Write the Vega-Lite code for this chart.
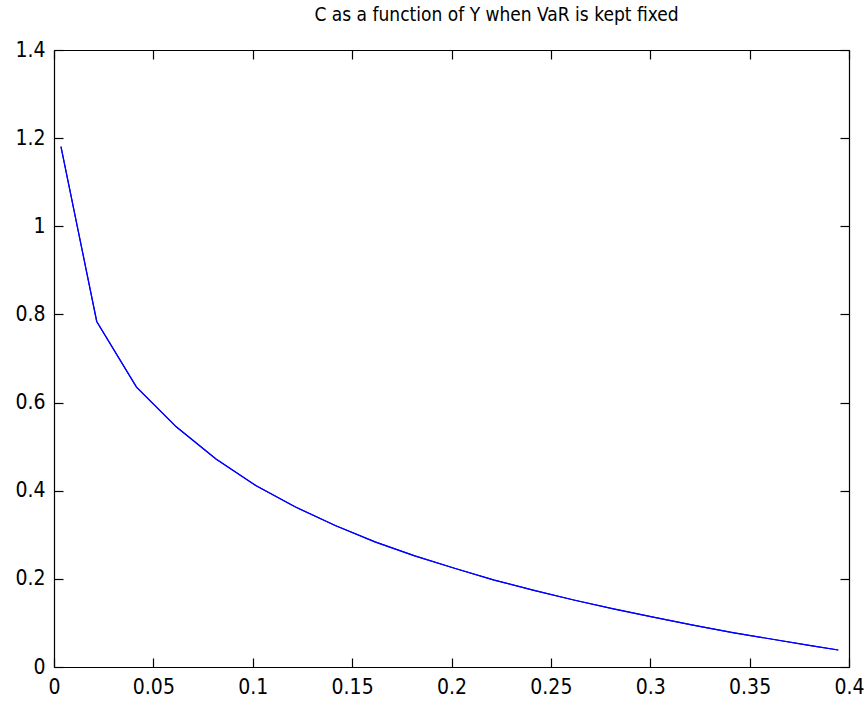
{
  "$schema": "https://vega.github.io/schema/vega-lite/v6.json",
  "autosize": "none",
  "width": 795,
  "height": 617,
  "padding": {"left": 54, "top": 50, "right": 19, "bottom": 35},
  "background": "white",
  "title": {
    "text": "C as a function of Y when VaR is kept fixed",
    "font": "DejaVu Sans Condensed, Liberation Sans, sans-serif",
    "fontSize": 19,
    "fontWeight": "normal",
    "color": "black",
    "offset": 14,
    "dx": 45
  },
  "config": {
    "view": {"stroke": null},
    "axis": {
      "grid": false,
      "domainColor": "black",
      "domainWidth": 1.2,
      "tickColor": "black",
      "tickWidth": 1.2,
      "tickSize": -9,
      "labelFont": "DejaVu Sans Condensed, Liberation Sans, sans-serif",
      "labelFontSize": 21,
      "labelColor": "black",
      "labelPadding": 18,
      "labelFlush": false,
      "labelOverlap": false,
      "title": null
    }
  },
  "data": {
    "values": [
      {"Y": 0.0035, "C": 1.181},
      {"Y": 0.0215, "C": 0.784},
      {"Y": 0.0415, "C": 0.635},
      {"Y": 0.0615, "C": 0.545},
      {"Y": 0.0815, "C": 0.472},
      {"Y": 0.1015, "C": 0.412},
      {"Y": 0.1215, "C": 0.363},
      {"Y": 0.1415, "C": 0.321},
      {"Y": 0.1615, "C": 0.284},
      {"Y": 0.1815, "C": 0.252},
      {"Y": 0.2015, "C": 0.224},
      {"Y": 0.2215, "C": 0.197},
      {"Y": 0.2415, "C": 0.174},
      {"Y": 0.2615, "C": 0.152},
      {"Y": 0.2815, "C": 0.132},
      {"Y": 0.3015, "C": 0.113},
      {"Y": 0.3215, "C": 0.095},
      {"Y": 0.3415, "C": 0.078},
      {"Y": 0.3615, "C": 0.063},
      {"Y": 0.3815, "C": 0.048},
      {"Y": 0.3946, "C": 0.0386}
    ]
  },
  "layer": [
    {
      "mark": {"type": "line", "color": "#0000FF", "strokeWidth": 1.2},
      "encoding": {
        "x": {
          "field": "Y", "type": "quantitative",
          "scale": {"domain": [0, 0.4], "nice": false, "zero": false},
          "axis": {"orient": "bottom", "values": [0, 0.05, 0.1, 0.15, 0.2, 0.25, 0.3, 0.35, 0.4], "format": "~g"}
        },
        "y": {
          "field": "C", "type": "quantitative",
          "scale": {"domain": [0, 1.4], "nice": false, "zero": false},
          "axis": {"orient": "left", "values": [0, 0.2, 0.4, 0.6, 0.8, 1, 1.2, 1.4], "format": "~g"}
        }
      }
    },
    {
      "mark": {"type": "line", "color": "#0000FF", "strokeWidth": 1.2},
      "encoding": {
        "x": {
          "field": "Y", "type": "quantitative",
          "axis": {"orient": "top", "values": [0, 0.05, 0.1, 0.15, 0.2, 0.25, 0.3, 0.35, 0.4], "labels": false}
        },
        "y": {
          "field": "C", "type": "quantitative",
          "axis": {"orient": "right", "values": [0, 0.2, 0.4, 0.6, 0.8, 1, 1.2, 1.4], "labels": false}
        }
      }
    }
  ],
  "resolve": {"axis": {"x": "independent", "y": "independent"}}
}
